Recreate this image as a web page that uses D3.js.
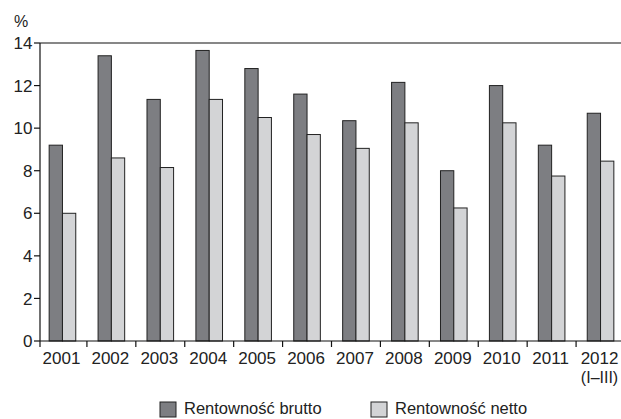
<!DOCTYPE html>
<html>
<head>
<meta charset="utf-8">
<script src="https://cdn.jsdelivr.net/npm/d3@7"></script>
<style>
  body { margin: 0; background: #fff; }
  svg text { font-family: "Liberation Sans", Arial, sans-serif; fill: #222; }
</style>
</head>
<body>
<div id="chart-area"></div>
<script>
const years = ["2001", "2002", "2003", "2004", "2005", "2006", "2007", "2008", "2009", "2010", "2011", "2012"];
const brutto = [9.2, 13.4, 11.35, 13.65, 12.8, 11.6, 10.35, 12.15, 8.0, 12.0, 9.2, 10.7];
const netto = [6.0, 8.6, 8.15, 11.35, 10.5, 9.7, 9.05, 10.25, 6.25, 10.25, 7.75, 8.45];
const seriesNames = ["Rentowność brutto", "Rentowność netto"];
const yTicks = [0, 2, 4, 6, 8, 10, 12, 14];

const W = 621, H = 419;
const plotLeft = 40, plotTop = 43, plotBottom = 341;

const svg = d3.select("#chart-area")
  .append("svg")
  .attr("width", W)
  .attr("height", H);

const x = d3.scaleBand()
  .domain(years)
  .range([38, 625])
  .padding(0);

const y = d3.scaleLinear()
  .domain([0, 14])
  .range([plotBottom, plotTop]);

const colors = ["#7d7e82", "#d3d4d6"];
const barW = 13.3;

// bars
const groups = svg.selectAll(".year")
  .data(years)
  .enter()
  .append("g")
  .attr("class", "year")
  .attr("transform", d => `translate(${x(d) + x.bandwidth() / 2},0)`);

[brutto, netto].forEach((vals, s) => {
  groups.append("rect")
    .attr("x", s === 0 ? -barW : 0)
    .attr("y", (d, i) => y(vals[i]))
    .attr("width", barW)
    .attr("height", (d, i) => y(0) - y(vals[i]))
    .attr("fill", colors[s])
    .attr("stroke", "#222")
    .attr("stroke-width", 1);
});

// top frame line
svg.append("line")
  .attr("x1", plotLeft).attr("x2", W)
  .attr("y1", y(14)).attr("y2", y(14))
  .attr("stroke", "#111").attr("stroke-width", 1.2);

// y axis
svg.append("line")
  .attr("x1", plotLeft).attr("x2", plotLeft)
  .attr("y1", y(14)).attr("y2", plotBottom + 6)
  .attr("stroke", "#111").attr("stroke-width", 1.2);

yTicks.forEach(t => {
  svg.append("line")
    .attr("x1", plotLeft - 6).attr("x2", plotLeft)
    .attr("y1", y(t)).attr("y2", y(t))
    .attr("stroke", "#111").attr("stroke-width", 1.2);
  svg.append("text")
    .attr("x", 32.5)
    .attr("y", y(t))
    .attr("dy", "0.36em")
    .attr("text-anchor", "end")
    .style("font-size", "17px")
    .text(t);
});

svg.append("text")
  .attr("x", 14)
  .attr("y", 27)
  .style("font-size", "16px")
  .text("%");

// x axis
svg.append("line")
  .attr("x1", plotLeft).attr("x2", W)
  .attr("y1", plotBottom).attr("y2", plotBottom)
  .attr("stroke", "#111").attr("stroke-width", 1.2);

years.slice(1).forEach(d => {
  svg.append("line")
    .attr("x1", x(d)).attr("x2", x(d))
    .attr("y1", plotBottom).attr("y2", plotBottom + 6)
    .attr("stroke", "#111").attr("stroke-width", 1.2);
});

years.forEach(d => {
  svg.append("text")
    .attr("x", x(d) + x.bandwidth() / 2 - 1)
    .attr("y", 364)
    .attr("text-anchor", "middle")
    .style("font-size", "17px")
    .text(d);
});

svg.append("text")
  .attr("x", x("2012") + x.bandwidth() / 2 - 1)
  .attr("y", 383)
  .attr("text-anchor", "middle")
  .style("font-size", "16px")
  .text("(I–III)");

// legend
const legendX = [160, 371];
seriesNames.forEach((name, i) => {
  svg.append("rect")
    .attr("x", legendX[i])
    .attr("y", 402)
    .attr("width", 16)
    .attr("height", 15)
    .attr("fill", colors[i])
    .attr("stroke", "#222")
    .attr("stroke-width", 1);
  svg.append("text")
    .attr("x", legendX[i] + 24)
    .attr("y", 414)
    .style("font-size", "16.5px")
    .text(name);
});
</script>
</body>
</html>
